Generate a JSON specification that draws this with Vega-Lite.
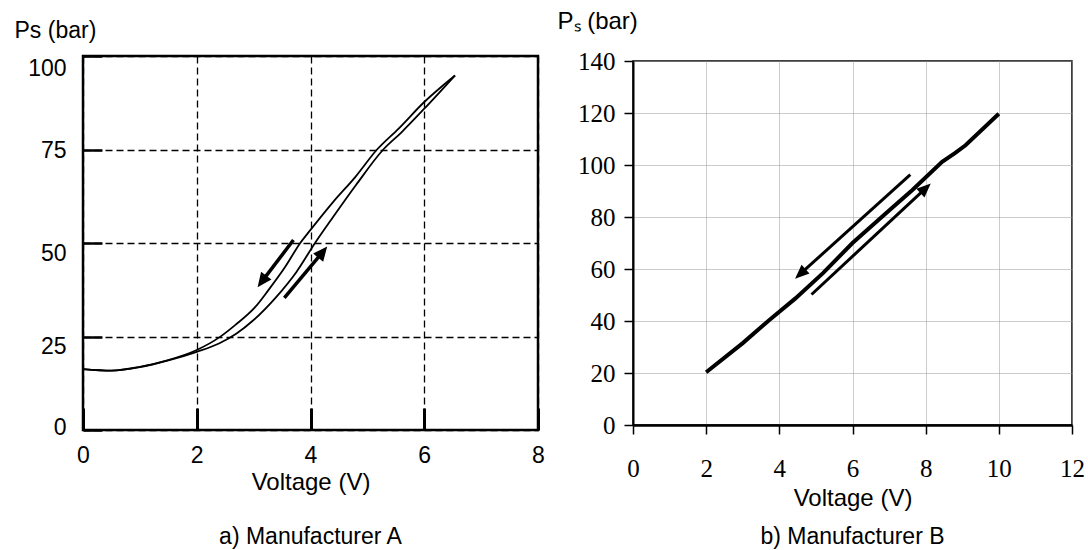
{
  "$schema": "https://vega.github.io/schema/vega-lite/v6.json",
  "background": "white",
  "padding": {"left": 12, "top": 8, "right": 5, "bottom": 2},
  "bounds": "flush",
  "center": true,
  "spacing": 95,
  "config": {
    "font": "Liberation Sans",
    "axis": {"labelColor": "black", "titleColor": "black", "titleFontWeight": "normal", "domainColor": "black", "tickColor": "black", "labelFlush": false, "labelOverlap": false},
    "title": {"color": "black", "fontWeight": "normal", "font": "Liberation Sans", "fontSize": 23}
  },
  "datasets": {
    "curvesA": [
      {"curve": "rising", "V": 0, "P": 16.3},
      {"curve": "rising", "V": 0.5, "P": 15.9},
      {"curve": "rising", "V": 1.0, "P": 16.8},
      {"curve": "rising", "V": 1.5, "P": 18.6},
      {"curve": "rising", "V": 2.0, "P": 20.9},
      {"curve": "rising", "V": 2.4, "P": 23.2},
      {"curve": "rising", "V": 2.7, "P": 25.8},
      {"curve": "rising", "V": 3.0, "P": 29.4},
      {"curve": "rising", "V": 3.4, "P": 35.6},
      {"curve": "rising", "V": 3.75, "P": 42.2},
      {"curve": "rising", "V": 4.08, "P": 50},
      {"curve": "rising", "V": 4.4, "P": 57},
      {"curve": "rising", "V": 4.8, "P": 65.5},
      {"curve": "rising", "V": 5.28, "P": 75},
      {"curve": "rising", "V": 5.6, "P": 79.6},
      {"curve": "rising", "V": 6.0, "P": 85.9},
      {"curve": "rising", "V": 6.54, "P": 94.8},
      {"curve": "falling", "V": 0, "P": 16.3},
      {"curve": "falling", "V": 0.5, "P": 15.9},
      {"curve": "falling", "V": 1.0, "P": 16.9},
      {"curve": "falling", "V": 1.5, "P": 18.7},
      {"curve": "falling", "V": 2.0, "P": 21.4},
      {"curve": "falling", "V": 2.41, "P": 24.9},
      {"curve": "falling", "V": 2.68, "P": 28.1},
      {"curve": "falling", "V": 3.03, "P": 32.9},
      {"curve": "falling", "V": 3.26, "P": 37.4},
      {"curve": "falling", "V": 3.55, "P": 43.5},
      {"curve": "falling", "V": 3.82, "P": 50},
      {"curve": "falling", "V": 4.0, "P": 53.5},
      {"curve": "falling", "V": 4.4, "P": 61},
      {"curve": "falling", "V": 4.79, "P": 67.7},
      {"curve": "falling", "V": 5.17, "P": 75},
      {"curve": "falling", "V": 5.55, "P": 80.6},
      {"curve": "falling", "V": 6.0, "P": 87.7},
      {"curve": "falling", "V": 6.54, "P": 94.8}
    ],
    "arrowsA": [
      {"arrow": "down", "V": 3.70, "P": 50.8},
      {"arrow": "down", "V": 3.15, "P": 39.8},
      {"arrow": "up", "V": 3.54, "P": 35.3},
      {"arrow": "up", "V": 4.21, "P": 47.5}
    ],
    "headsA": [
      {"arrow": "down", "V": 3.15, "P": 39.8},
      {"arrow": "up", "V": 4.21, "P": 47.5}
    ],
    "lineB": [
      {"V": 2, "P": 20.3},
      {"V": 3, "P": 31.5},
      {"V": 3.72, "P": 40.3},
      {"V": 4.44, "P": 48.7},
      {"V": 5.2, "P": 58.5},
      {"V": 6, "P": 70},
      {"V": 7, "P": 82.5},
      {"V": 7.63, "P": 90.3},
      {"V": 8.45, "P": 101.2},
      {"V": 8.8, "P": 104.6},
      {"V": 9.09, "P": 107.6},
      {"V": 10, "P": 119.7}
    ],
    "arrowsB": [
      {"arrow": "down", "V": 7.58, "P": 96.3},
      {"arrow": "down", "V": 4.58, "P": 58.2},
      {"arrow": "up", "V": 4.88, "P": 50.2},
      {"arrow": "up", "V": 7.99, "P": 90.9}
    ],
    "headsB": [
      {"arrow": "down", "V": 4.58, "P": 58.2},
      {"arrow": "up", "V": 7.99, "P": 90.9}
    ]
  },
  "hconcat": [
    {
      "width": 455,
      "height": 374,
      "view": {"stroke": "black", "strokeWidth": 2.5},
      "title": {"text": "a) Manufacturer A", "orient": "bottom", "offset": 32, "anchor": "middle"},
      "encoding": {
        "x": {
          "field": "V", "type": "quantitative",
          "scale": {"domain": [0, 8], "nice": false, "zero": false},
          "axis": {
            "values": [0, 2, 4, 6, 8], "domain": false,
            "grid": true, "gridColor": "black", "gridDash": [7, 4], "gridWidth": 1.3,
            "tickSize": -22, "tickWidth": 3,
            "labelFont": "Liberation Sans", "labelFontSize": 23, "labelPadding": 36,
            "title": "Voltage (V)", "titleFont": "Liberation Sans", "titleFontSize": 24,
            "titleY": 52, "titleBaseline": "middle"
          }
        },
        "y": {
          "field": "P", "type": "quantitative",
          "scale": {"domain": [0, 100], "nice": false},
          "axis": {
            "values": [0, 25, 50, 75, 100], "domain": false,
            "grid": true, "gridColor": "black", "gridDash": [7, 4], "gridWidth": 1.3,
            "tickSize": -19, "tickWidth": 2.5,
            "labelFont": "Liberation Sans", "labelFontSize": 23, "labelPadding": 36,
            "labelOffset": {"condition": [
              {"test": "datum.value == 100", "value": 12},
              {"test": "datum.value == 75", "value": 1},
              {"test": "datum.value == 50", "value": 10},
              {"test": "datum.value == 25", "value": 10},
              {"test": "datum.value == 0", "value": -3}
            ], "value": 0},
            "title": "Ps (bar)", "titleFont": "Liberation Sans", "titleFontSize": 23,
            "titleAngle": 0, "titleAlign": "left", "titleBaseline": "alphabetic",
            "titleX": -69, "titleY": -19
          }
        }
      },
      "layer": [
        {
          "data": {"name": "curvesA"},
          "mark": {"type": "line", "color": "black", "strokeWidth": 1.8, "interpolate": "monotone"},
          "encoding": {"detail": {"field": "curve", "type": "nominal"}}
        },
        {
          "data": {"name": "arrowsA"},
          "mark": {"type": "line", "color": "black", "strokeWidth": 3.5},
          "encoding": {"detail": {"field": "arrow", "type": "nominal"}}
        },
        {
          "data": {"name": "headsA"},
          "transform": [{"filter": "datum.arrow == 'down'"}],
          "mark": {"type": "point", "shape": "M0,-1L0.85,0.9L-0.85,0.9Z", "filled": true, "color": "black", "opacity": 1, "size": 230, "angle": 217},
          "encoding": {}
        },
        {
          "data": {"name": "headsA"},
          "transform": [{"filter": "datum.arrow == 'up'"}],
          "mark": {"type": "point", "shape": "M0,-1L0.85,0.9L-0.85,0.9Z", "filled": true, "color": "black", "opacity": 1, "size": 230, "angle": 39},
          "encoding": {}
        }
      ]
    },
    {
      "width": 439,
      "height": 364,
      "view": {"stroke": "black", "strokeWidth": 1.5},
      "title": {"text": "b) Manufacturer B", "orient": "bottom", "offset": 16, "anchor": "middle"},
      "encoding": {
        "x": {
          "field": "V", "type": "quantitative",
          "scale": {"domain": [0, 12], "nice": false, "zero": false},
          "axis": {
            "values": [0, 2, 4, 6, 8, 10, 12], "domainColor": "black", "domainWidth": 2.5,
            "grid": true, "gridColor": "#999999", "gridDash": [1, 1], "gridWidth": 1,
            "tickSize": 9, "tickWidth": 1.5,
            "labelFont": "Liberation Serif", "labelFontSize": 25, "labelPadding": 22,
            "title": "Voltage (V)", "titleFont": "Liberation Sans", "titleFontSize": 24,
            "titleY": 73, "titleBaseline": "middle"
          }
        },
        "y": {
          "field": "P", "type": "quantitative",
          "scale": {"domain": [0, 140], "nice": false},
          "axis": {
            "values": [0, 20, 40, 60, 80, 100, 120, 140], "domainColor": "black", "domainWidth": 2,
            "grid": true, "gridColor": "#999999", "gridDash": [1, 1], "gridWidth": 1,
            "tickSize": 9, "tickWidth": 1.5,
            "labelFont": "Liberation Serif", "labelFontSize": 25, "labelPadding": 9,
            "title": "Pₛ (bar)", "titleFont": "Liberation Sans", "titleFontSize": 24,
            "titleAngle": 0, "titleAlign": "left", "titleBaseline": "alphabetic",
            "titleX": -76, "titleY": -33
          }
        }
      },
      "layer": [
        {
          "data": {"name": "lineB"},
          "mark": {"type": "line", "color": "black", "strokeWidth": 4},
          "encoding": {}
        },
        {
          "data": {"name": "arrowsB"},
          "mark": {"type": "line", "color": "black", "strokeWidth": 3},
          "encoding": {"detail": {"field": "arrow", "type": "nominal"}}
        },
        {
          "data": {"name": "headsB"},
          "transform": [{"filter": "datum.arrow == 'down'"}],
          "mark": {"type": "point", "shape": "M0,-1L0.8,0.9L-0.8,0.9Z", "filled": true, "color": "black", "opacity": 1, "size": 220, "angle": 228},
          "encoding": {}
        },
        {
          "data": {"name": "headsB"},
          "transform": [{"filter": "datum.arrow == 'up'"}],
          "mark": {"type": "point", "shape": "M0,-1L0.8,0.9L-0.8,0.9Z", "filled": true, "color": "black", "opacity": 1, "size": 220, "angle": 47},
          "encoding": {}
        }
      ]
    }
  ]
}
